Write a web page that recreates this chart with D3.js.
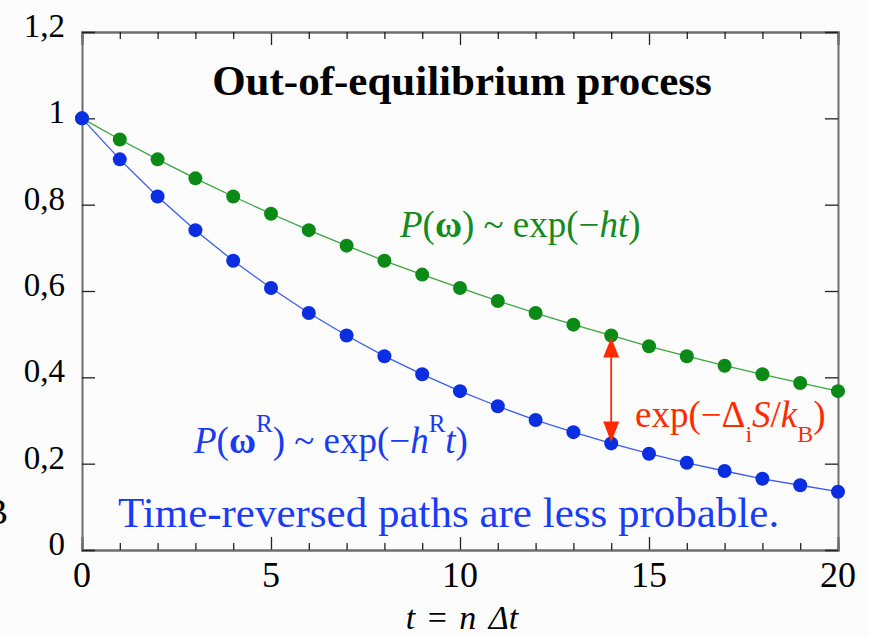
<!DOCTYPE html>
<html><head><meta charset="utf-8">
<script src="https://cdn.jsdelivr.net/npm/d3@7"></script>
<style>
html,body{margin:0;padding:0;background:#fcfcfc;}
svg{display:block;}
text{font-family:"Liberation Serif","DejaVu Serif",serif;}
</style></head>
<body>
<svg id="chart" width="869" height="636"></svg>
<script>
// ---- data ----
const steps = [0,1,2,3,4,5,6,7,8,9,10,11,12,13,14,15,16,17,18,19,20];
const forwardP = [1.000,0.951,0.905,0.861,0.819,0.779,0.741,0.705,0.670,0.638,0.607,0.577,0.549,0.522,0.497,0.472,0.449,0.427,0.407,0.387,0.368];
const reversedP = [1.000,0.905,0.819,0.741,0.670,0.607,0.549,0.497,0.449,0.407,0.368,0.333,0.301,0.273,0.247,0.223,0.202,0.183,0.165,0.150,0.135];
const xTicks = [0,5,10,15,20];
const xMinorTicks = [1,2,3,4,6,7,8,9,11,12,13,14,16,17,18,19];
const yTicks = [0,0.2,0.4,0.6,0.8,1,1.2];
const yTickLabels = ["0","0,2","0,4","0,6","0,8","1","1,2"];
const arrowStep = 14;

const W = 869, H = 636;
const m = {left:82, right:W-838, top:32, bottom:H-550};
const svg = d3.select("#chart");
svg.append("rect").attr("width",W).attr("height",H).attr("fill","#fcfcfc");

const x = d3.scaleLinear().domain([0,20]).range([m.left, W-m.right]);
const y = d3.scaleLinear().domain([0,1.2]).range([H-m.bottom, m.top]);

function txt(g, px, py, anchor, size, opts={}){
  const t = g.append("text")
    .attr("x",px).attr("y",py)
    .attr("text-anchor",anchor)
    .attr("font-size",size)
    .attr("fill",opts.fill||"#000");
  if(opts.weight) t.attr("font-weight",opts.weight);
  return t;
}

// axes (ticks inward)
const axisColor = "#6e6e6e";
const gb = svg.append("g").attr("transform",`translate(0,${y(0)})`)
  .call(d3.axisBottom(x).tickValues(xTicks).tickSize(-13).tickFormat(""));
const gbm = svg.append("g").attr("transform",`translate(0,${y(0)})`)
  .call(d3.axisBottom(x).tickValues(xMinorTicks).tickSize(-7).tickFormat(""));
const gt = svg.append("g").attr("transform",`translate(0,${y(1.2)})`)
  .call(d3.axisTop(x).tickValues(xTicks).tickSize(-13).tickFormat(""));
const gtm = svg.append("g").attr("transform",`translate(0,${y(1.2)})`)
  .call(d3.axisTop(x).tickValues(xMinorTicks).tickSize(-7).tickFormat(""));
const gl = svg.append("g").attr("transform",`translate(${x(0)},0)`)
  .call(d3.axisLeft(y).tickValues(yTicks).tickSize(-13).tickFormat(""));
const gr = svg.append("g").attr("transform",`translate(${x(20)},0)`)
  .call(d3.axisRight(y).tickValues(yTicks).tickSize(-13).tickFormat(""));
[gb,gbm,gt,gtm,gl,gr].forEach(g=>{
  g.select(".domain").attr("stroke",axisColor).attr("stroke-width",2);
  g.selectAll(".tick line").attr("stroke","#222").attr("stroke-width",1.3);
});

// tick labels
const labels = svg.append("g");
xTicks.forEach(v=>{ txt(labels, x(v), y(0)+37, "middle", 36).text(String(v)); });
yTicks.forEach((v,i)=>{ txt(labels, 65, y(v)+5, "end", 33).text(yTickLabels[i]); });

// axis title
const at = txt(svg, x(10)+2, 629, "middle", 34);
at.append("tspan").attr("font-style","italic").text("t");
at.append("tspan").attr("dx",4).text(" = ");
at.append("tspan").attr("dx",4).attr("font-style","italic").text("n");
at.append("tspan").attr("dx",4).attr("font-style","italic").text(" Δt");

// cut-off left label
txt(svg, 8, 524, "end", 36).text("B");

// lines & points
const green = "#0c8a18", greenLine = "#3aa63f";
const blue = "#0a2ee0", blueLine = "#3b5cf0";
const line = d3.line().x((d,i)=>x(steps[i])).y(d=>y(d));
svg.append("path").datum(forwardP).attr("d",line).attr("fill","none").attr("stroke",greenLine).attr("stroke-width",1.3);
svg.append("path").datum(reversedP).attr("d",line).attr("fill","none").attr("stroke",blueLine).attr("stroke-width",1.3);
svg.append("g").selectAll("circle").data(forwardP).join("circle")
  .attr("cx",(d,i)=>x(steps[i])).attr("cy",d=>y(d)).attr("r",7).attr("fill",green);
svg.append("g").selectAll("circle").data(reversedP).join("circle")
  .attr("cx",(d,i)=>x(steps[i])).attr("cy",d=>y(d)).attr("r",7).attr("fill",blue);

// red double arrow
const red = "#ff2a00";
const ax = x(arrowStep), ay1 = y(forwardP[arrowStep]), ay2 = y(reversedP[arrowStep]);
const ah = 22, aw = 8;
svg.append("line").attr("x1",ax).attr("x2",ax).attr("y1",ay1+ah-2).attr("y2",ay2-ah+2)
  .attr("stroke",red).attr("stroke-width",1.8);
svg.append("path").attr("d",`M${ax},${ay1+2}L${ax-aw},${ay1+ah}L${ax+aw},${ay1+ah}Z`).attr("fill",red);
svg.append("path").attr("d",`M${ax},${ay2-1}L${ax-aw},${ay2-ah}L${ax+aw},${ay2-ah}Z`).attr("fill",red);

// title
txt(svg, 462, 95, "middle", 43, {weight:"bold"}).text("Out-of-equilibrium process");

// green label
const gLab = txt(svg, 400, 237, "start", 37, {fill:"#148a20"});
gLab.append("tspan").attr("font-style","italic").text("P");
gLab.append("tspan").text("(");
gLab.append("tspan").attr("font-weight","bold").text("ω");
gLab.append("tspan").text(") ~ exp(−");
gLab.append("tspan").attr("font-style","italic").text("ht");
gLab.append("tspan").text(")");

// blue label
const bLab = txt(svg, 194, 453, "start", 37, {fill:"#1a3cf0"});
bLab.append("tspan").attr("font-style","italic").text("P");
bLab.append("tspan").text("(");
bLab.append("tspan").attr("font-weight","bold").text("ω");
bLab.append("tspan").attr("font-size",25).attr("dy",-21).text("R");
bLab.append("tspan").attr("dy",21).text(") ~ exp(−");
bLab.append("tspan").attr("font-style","italic").text("h");
bLab.append("tspan").attr("font-size",25).attr("dy",-21).text("R");
bLab.append("tspan").attr("dy",21).attr("font-style","italic").text("t");
bLab.append("tspan").text(")");

// red label
const rLab = txt(svg, 635, 427, "start", 37, {fill:red});
rLab.append("tspan").text("exp(−Δ");
rLab.append("tspan").attr("font-size",24).attr("dy",15).text("i");
rLab.append("tspan").attr("dy",-15).attr("font-style","italic").text("S");
rLab.append("tspan").text("/");
rLab.append("tspan").attr("font-style","italic").text("k");
rLab.append("tspan").attr("font-size",24).attr("dy",15).text("B");
rLab.append("tspan").attr("dy",-15).text(")");

// bottom statement
txt(svg, 118, 527, "start", 43, {fill:"#1a3cf5"}).text("Time-reversed paths are less probable.");
</script>
</body></html>
